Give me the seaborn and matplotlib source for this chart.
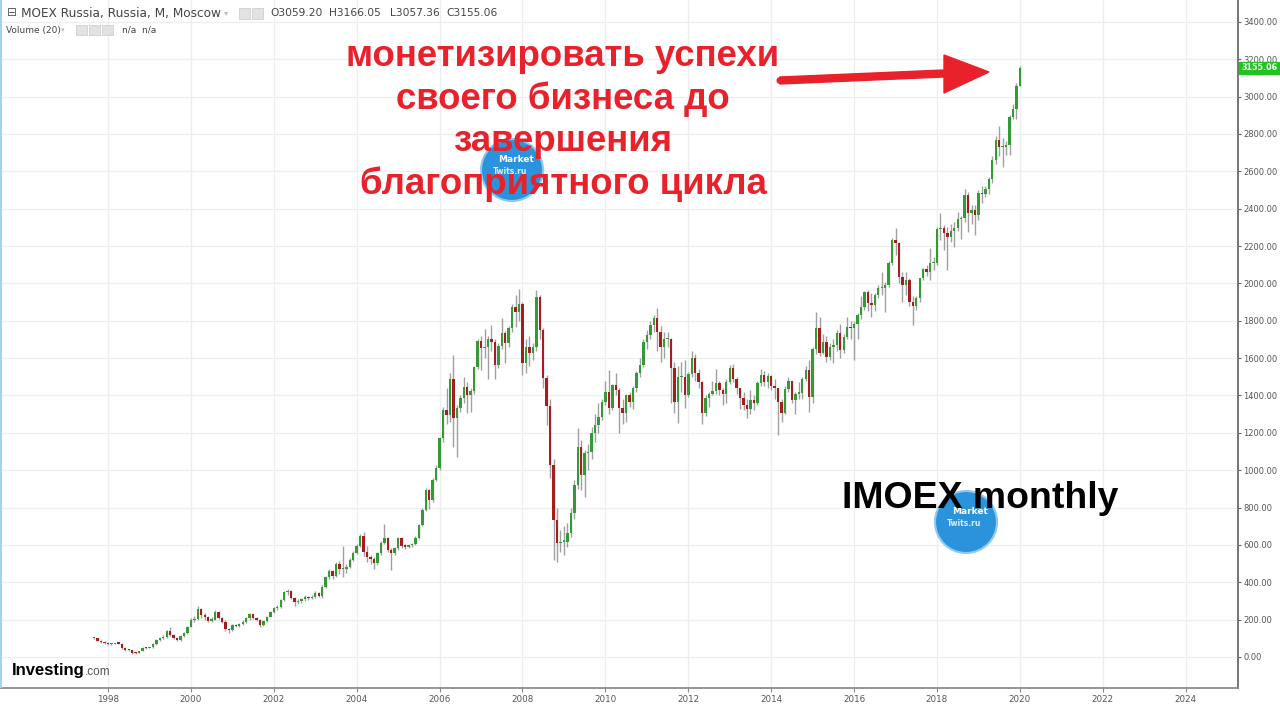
import numpy as np
import pandas as pd
import matplotlib
matplotlib.use("Agg")
import matplotlib.pyplot as plt
import seaborn as sns
from matplotlib.patches import Polygon, Ellipse, Rectangle

# ---------------- data (monthly IMOEX, Sep 1997 .. Jan 2020) ----------------
first_open = 100.0
c1997 = [100, 88, 80, 74]
h1997 = [106, 104, 92, 84]
l1997 = [95, 84, 76, 70]
c1998 = [68, 70, 73, 72, 47, 38, 36, 24, 21, 32, 50, 49]
h1998 = [78, 74, 77, 76, 74, 52, 44, 40, 28, 34, 54, 56]
l1998 = [64, 64, 68, 68, 44, 34, 30, 18, 17, 19, 30, 44]
c1999 = [52, 70, 90, 100, 108, 140, 118, 102, 90, 112, 128, 162]
h1999 = [56, 74, 95, 108, 116, 146, 158, 124, 108, 116, 134, 166]
l1999 = [46, 50, 66, 86, 96, 104, 112, 96, 84, 86, 108, 124]
c2000 = [198, 205, 258, 226, 215, 195, 200, 240, 210, 190, 148, 142]
h2000 = [210, 222, 272, 262, 236, 222, 212, 252, 246, 214, 196, 156]
l2000 = [158, 188, 198, 208, 200, 188, 186, 196, 204, 182, 140, 130]
c2001 = [170, 165, 178, 190, 207, 228, 210, 198, 172, 195, 215, 243]
h2001 = [176, 178, 184, 196, 214, 236, 232, 214, 202, 200, 220, 248]
l2001 = [138, 158, 160, 172, 184, 200, 204, 192, 160, 166, 190, 212]
c2002 = [260, 268, 305, 346, 355, 318, 292, 298, 308, 322, 314, 322]
h2002 = [266, 276, 312, 352, 362, 358, 322, 308, 316, 330, 328, 330]
l2002 = [236, 254, 262, 300, 334, 308, 274, 284, 290, 302, 306, 308]
c2003 = [345, 328, 377, 427, 460, 432, 500, 470, 470, 484, 519, 559]
h2003 = [352, 350, 384, 436, 470, 466, 510, 512, 594, 500, 528, 566]
l2003 = [316, 320, 318, 370, 420, 420, 428, 445, 427, 450, 476, 512]
c2004 = [594, 648, 564, 534, 523, 501, 555, 612, 635, 573, 555, 582]
h2004 = [604, 660, 668, 592, 548, 536, 562, 620, 712, 642, 582, 590]
l2004 = [552, 588, 540, 510, 500, 472, 494, 548, 604, 560, 466, 548]
c2005 = [635, 594, 591, 598, 605, 639, 707, 787, 894, 840, 947, 1010]
h2005 = [642, 640, 605, 606, 612, 646, 714, 796, 904, 900, 958, 1030]
l2005 = [575, 586, 580, 584, 590, 598, 632, 700, 780, 790, 832, 940]
c2006 = [1170, 1322, 1296, 1488, 1278, 1331, 1385, 1447, 1403, 1426, 1550, 1693]
h2006 = [1180, 1340, 1440, 1520, 1617, 1350, 1400, 1500, 1470, 1440, 1560, 1700]
l2006 = [1000, 1150, 1250, 1260, 1126, 1072, 1310, 1360, 1305, 1310, 1410, 1540]
c2007 = [1652, 1660, 1700, 1688, 1563, 1665, 1736, 1679, 1759, 1875, 1845, 1890]
h2007 = [1720, 1754, 1720, 1777, 1700, 1680, 1813, 1745, 1770, 1890, 1938, 1968]
l2007 = [1536, 1600, 1486, 1640, 1486, 1545, 1650, 1572, 1660, 1740, 1768, 1800]
c2008 = [1572, 1661, 1629, 1661, 1929, 1750, 1492, 1344, 1028, 734, 609, 618]
h2008 = [1900, 1700, 1720, 1680, 1964, 1940, 1760, 1510, 1380, 1060, 800, 680]
l2008 = [1510, 1520, 1560, 1590, 1640, 1700, 1440, 1240, 960, 520, 510, 560]
c2009 = [618, 662, 769, 921, 1126, 974, 1090, 1099, 1197, 1242, 1287, 1367]
h2009 = [700, 720, 800, 950, 1224, 1160, 1110, 1140, 1230, 1300, 1360, 1380]
l2009 = [546, 590, 640, 740, 900, 894, 858, 1000, 1060, 1150, 1200, 1270]
c2010 = [1420, 1331, 1456, 1429, 1331, 1304, 1402, 1367, 1438, 1518, 1563, 1688]
h2010 = [1480, 1536, 1460, 1520, 1440, 1380, 1410, 1420, 1450, 1530, 1600, 1700]
l2010 = [1350, 1300, 1320, 1400, 1197, 1250, 1260, 1340, 1330, 1420, 1500, 1550]
c2011 = [1724, 1777, 1813, 1741, 1661, 1700, 1700, 1545, 1367, 1500, 1500, 1403]
h2011 = [1750, 1800, 1830, 1866, 1770, 1740, 1740, 1710, 1580, 1560, 1580, 1590]
l2011 = [1650, 1700, 1740, 1640, 1580, 1600, 1660, 1358, 1304, 1251, 1420, 1331]
c2012 = [1515, 1599, 1519, 1474, 1304, 1385, 1408, 1426, 1465, 1429, 1406, 1474]
h2012 = [1525, 1640, 1620, 1540, 1480, 1400, 1420, 1480, 1540, 1480, 1440, 1490]
l2012 = [1390, 1500, 1480, 1440, 1247, 1290, 1340, 1400, 1410, 1400, 1350, 1358]
c2013 = [1545, 1486, 1438, 1385, 1349, 1326, 1376, 1362, 1465, 1510, 1474, 1504]
h2013 = [1563, 1570, 1500, 1440, 1420, 1380, 1429, 1400, 1480, 1540, 1530, 1520]
l2013 = [1460, 1470, 1410, 1330, 1320, 1278, 1300, 1320, 1350, 1450, 1450, 1440]
c2014 = [1451, 1438, 1367, 1304, 1433, 1477, 1376, 1410, 1411, 1486, 1536, 1394]
h2014 = [1510, 1490, 1440, 1380, 1450, 1500, 1480, 1420, 1470, 1500, 1560, 1590]
l2014 = [1430, 1380, 1188, 1260, 1300, 1420, 1360, 1300, 1380, 1380, 1480, 1313]
c2015 = [1647, 1759, 1625, 1688, 1608, 1661, 1670, 1732, 1643, 1715, 1768, 1759]
h2015 = [1660, 1848, 1820, 1730, 1720, 1680, 1700, 1750, 1780, 1730, 1820, 1800]
l2015 = [1360, 1620, 1610, 1620, 1580, 1590, 1572, 1640, 1600, 1630, 1700, 1700]
c2016 = [1782, 1830, 1871, 1955, 1897, 1884, 1938, 1973, 1977, 1991, 2111, 2232]
h2016 = [1800, 1840, 1930, 1960, 1965, 1950, 1950, 1990, 2063, 2010, 2120, 2245]
l2016 = [1590, 1700, 1810, 1860, 1850, 1820, 1850, 1920, 1940, 1848, 1980, 2100]
c2017 = [2218, 2036, 1991, 2018, 1902, 1879, 1920, 2027, 2075, 2063, 2107, 2111]
h2017 = [2294, 2220, 2060, 2060, 2030, 1930, 1930, 2030, 2080, 2100, 2190, 2140]
l2017 = [2150, 2000, 1900, 1940, 1880, 1777, 1860, 1900, 2020, 2040, 2020, 2070]
c2018 = [2289, 2294, 2271, 2250, 2283, 2296, 2345, 2348, 2473, 2375, 2393, 2366]
h2018 = [2300, 2375, 2310, 2300, 2320, 2330, 2380, 2360, 2508, 2490, 2420, 2420]
l2018 = [2100, 2230, 2178, 2071, 2220, 2196, 2280, 2240, 2330, 2277, 2320, 2259]
c2019 = [2484, 2479, 2503, 2557, 2660, 2767, 2732, 2732, 2741, 2892, 2931, 3059.20]
h2019 = [2500, 2520, 2520, 2570, 2680, 2790, 2842, 2780, 2760, 2900, 2960, 3075]
l2019 = [2340, 2430, 2460, 2480, 2540, 2640, 2680, 2625, 2690, 2690, 2880, 2878]
c2020 = [3155.06]
h2020 = [3166.05]
l2020 = [3057.36]

year_ticks = list(range(1998, 2025, 2))
y_ticks = list(range(0, 3401, 200))
ohlc_labels = ["O3059.20", "H3166.05", "L3057.36", "C3155.06"]
red_lines = ["монетизировать успехи", "своего бизнеса до", "завершения", "благоприятного цикла"]

close = np.array(c1997 + c1998 + c1999 + c2000 + c2001 + c2002 + c2003 + c2004 + c2005 + c2006
                 + c2007 + c2008 + c2009 + c2010 + c2011 + c2012 + c2013 + c2014 + c2015 + c2016
                 + c2017 + c2018 + c2019 + c2020, dtype=float)
high = np.array(h1997 + h1998 + h1999 + h2000 + h2001 + h2002 + h2003 + h2004 + h2005 + h2006
                + h2007 + h2008 + h2009 + h2010 + h2011 + h2012 + h2013 + h2014 + h2015 + h2016
                + h2017 + h2018 + h2019 + h2020, dtype=float)
low = np.array(l1997 + l1998 + l1999 + l2000 + l2001 + l2002 + l2003 + l2004 + l2005 + l2006
               + l2007 + l2008 + l2009 + l2010 + l2011 + l2012 + l2013 + l2014 + l2015 + l2016
               + l2017 + l2018 + l2019 + l2020, dtype=float)
# monthly bars: each month opens where the previous one closed
opn = np.concatenate([[first_open], close[:-1]])
dates = pd.date_range("1997-09-01", periods=len(close), freq="MS")
df = pd.DataFrame({"date": dates, "open": opn, "high": high, "low": low, "close": close})
df["t"] = df["date"].dt.year + (df["date"].dt.month - 1) / 12.0
df["up"] = df["close"] >= df["open"]

# ---------------- figure ----------------
sns.set_theme(style="white")
plt.rcParams["font.family"] = ["DejaVu Sans"]

W, H = 1280, 704
fig = plt.figure(figsize=(W / 100, H / 100), dpi=100)
fig.patch.set_facecolor("white")
ax = fig.add_axes([0, 16 / H, 1238 / W, 688 / H])
ax.set_facecolor("white")

x0 = 1998 + (0 - 108) / 41.45
x1 = 1998 + (1238 - 108) / 41.45
ax.set_xlim(x0, x1)
ax.set_ylim((657 - 688) / 0.1868, 657 / 0.1868)

for yt in y_ticks:
    ax.axhline(yt, color="#eeeeee", lw=0.9, zorder=0)
for xt in year_ticks:
    ax.axvline(xt, color="#eeeeee", lw=0.9, zorder=0)

GREEN = "#359a35"
RED = "#a51d1d"
WICK = "#a0a0a0"

ax.vlines(df["t"], df["low"], df["high"], color=WICK, lw=1.0, zorder=2)
body_lo = np.minimum(df["open"], df["close"])
body_h = np.maximum(np.abs(df["close"] - df["open"]), 6)
cols = np.where(df["up"], GREEN, RED)
ax.bar(df["t"], body_h, bottom=body_lo, width=0.058, color=cols, linewidth=0, zorder=3)

for s in ["top", "left"]:
    ax.spines[s].set_visible(False)
ax.spines["right"].set_color("#666666")
ax.spines["bottom"].set_color("#888888")
ax.yaxis.tick_right()
ax.set_yticks(y_ticks)
ax.set_yticklabels([f"{v:.2f}" for v in y_ticks])
ax.set_xticks(year_ticks)
ax.set_xticklabels([str(v) for v in year_ticks])
ax.tick_params(axis="y", which="both", right=True, length=2.5, width=0.8, color="#666666",
               labelsize=6.0, labelcolor="#555555", pad=1.5)
ax.tick_params(axis="x", which="both", bottom=True, length=3, width=0.8, color="#888888",
               labelsize=6.3, labelcolor="#555555", pad=2)

# last price tag
last = df["close"].iloc[-1]
ax.annotate(f"{last:.2f}", xy=(1.0, last), xycoords=("axes fraction", "data"),
            xytext=(2.2, 0), textcoords="offset points", ha="left", va="center",
            fontsize=5.8, color="white", fontweight="bold", zorder=10,
            bbox=dict(boxstyle="square,pad=0.2", fc="#1ec51e", ec="#1ec51e"),
            annotation_clip=False)


def fx(px):
    return px / W


def fy(py):
    return 1 - py / H


# header texts
fig.text(fx(7), fy(13), "⊟", fontsize=8.5, color="#555555", va="center")
fig.text(fx(21), fy(13), "MOEX Russia, Russia, M, Moscow", fontsize=8.7, color="#444444", va="center")
fig.text(fx(224), fy(13), "▾", fontsize=6, color="#bbbbbb", va="center")
for px in (239, 252):
    fig.patches.append(Rectangle((fx(px), fy(19)), 11 / W, 11 / H,
                                 transform=fig.transFigure, fc="#e2e2e2", ec="#cfcfcf", lw=0.6))
for lbl, px in zip(ohlc_labels, (270, 329, 390, 446)):
    fig.text(fx(px), fy(13), lbl, fontsize=7.7, color="#444444", va="center")
fig.text(fx(6), fy(30), "Volume (20)", fontsize=6.5, color="#444444", va="center")
fig.text(fx(61), fy(30), "▾", fontsize=5, color="#bbbbbb", va="center")
for px in (76, 89, 102):
    fig.patches.append(Rectangle((fx(px), fy(35)), 11 / W, 10 / H,
                                 transform=fig.transFigure, fc="#e2e2e2", ec="#cfcfcf", lw=0.6))
fig.text(fx(122), fy(30), "n/a  n/a", fontsize=6.5, color="#444444", va="center")

# watermark logos (drawn beneath the overlay texts, as in the reference)
for cx, cy in [(512, 170), (966, 522)]:
    fig.patches.append(Ellipse((fx(cx), fy(cy)), 62 / W, 62 / H, transform=fig.transFigure,
                               fc="#2b93dc", ec="#8ccaf2", lw=1.5, zorder=5))
    fig.text(fx(cx + 4), fy(cy - 10), "Market", fontsize=6.5, color="white", fontweight="bold",
             ha="center", va="center", zorder=6)
    fig.text(fx(cx - 2), fy(cy + 2), "Twits.ru", fontsize=5.5, color="#d8eeff", fontweight="bold",
             ha="center", va="center", zorder=6)

# big red text
for i, line in enumerate(red_lines):
    fig.text(fx(563), fy(56 + i * 42.7), line, fontsize=26.4, color="#e8212b", fontweight="bold",
             family=["Liberation Sans", "DejaVu Sans"], ha="center", va="center", zorder=8)

# red arrow
shaft = [(780, 77), (944, 70), (944, 55), (989, 72), (944, 93), (944, 77), (780, 84)]
fig.patches.append(Polygon([(fx(a), fy(b)) for a, b in shaft], closed=True,
                           transform=fig.transFigure, fc="#e8212b", ec="#e8212b", lw=1, zorder=8))
fig.patches.append(Ellipse((fx(780), fy(80.5)), 7 / W, 7 / H, transform=fig.transFigure,
                           fc="#e8212b", ec="none", zorder=8))

# IMOEX monthly
fig.text(fx(980), fy(498), "IMOEX monthly", fontsize=26.9, color="black", fontweight="bold",
         family=["Liberation Sans", "DejaVu Sans"], ha="center", va="center", zorder=8)

# Investing.com logo
fig.text(fx(12), fy(670), "Investing", fontsize=12, color="black", fontweight="bold",
         family=["Liberation Sans Narrow", "Liberation Sans"], va="center")
fig.text(fx(85), fy(672), ".com", fontsize=8.5, color="#555555",
         family=["Liberation Sans Narrow", "Liberation Sans"], va="center")

# thin left border
fig.patches.append(Rectangle((0, fy(688)), 2 / W, 688 / H, transform=fig.transFigure,
                             fc="#9fd3f0", ec="none"))

fig.savefig("out.png", dpi=100, facecolor="white")
